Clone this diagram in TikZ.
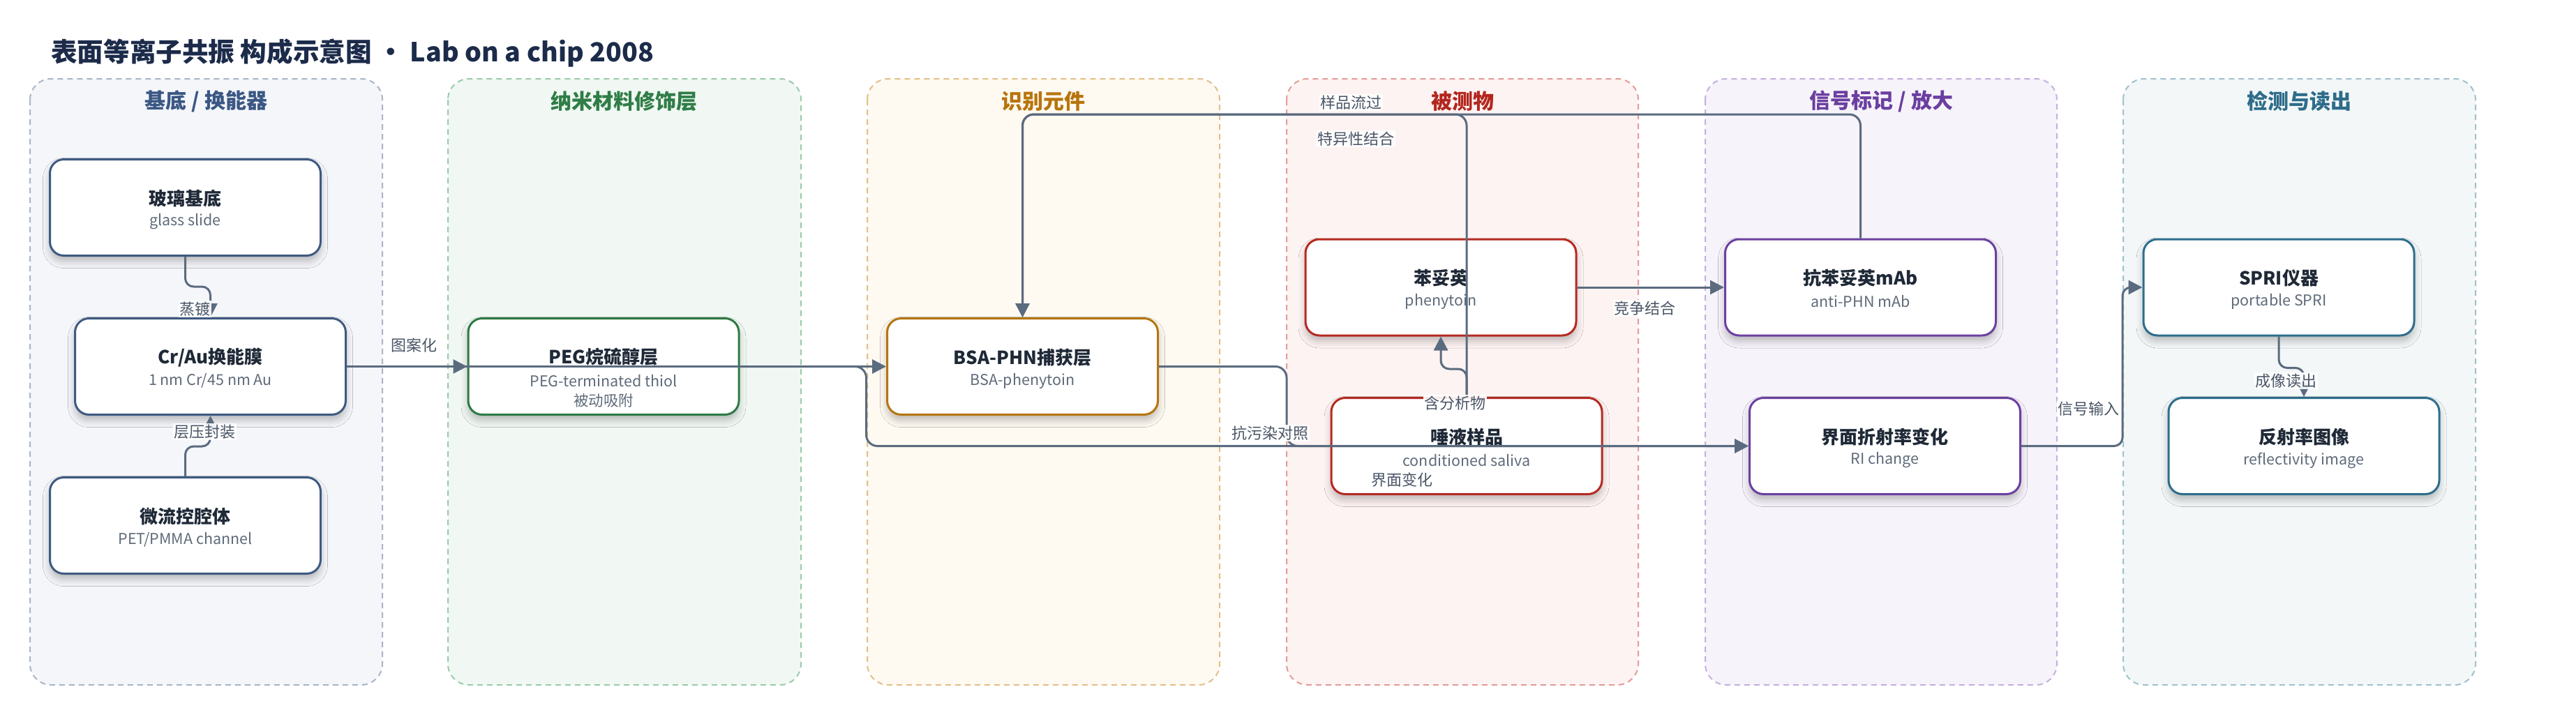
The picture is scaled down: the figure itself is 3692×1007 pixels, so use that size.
\documentclass[tikz,border=0pt]{standalone}
\usepackage{fontspec}
\setmainfont{Noto Sans CJK SC}
\usetikzlibrary{arrows.meta,shadows.blur}
\definecolor{titlec}{HTML}{1C2B4A}
\definecolor{ttlc}{HTML}{1F2937}
\definecolor{subc}{HTML}{5F6B7A}
\definecolor{lblc}{HTML}{4A5566}
\definecolor{edgec}{HTML}{5B6B7F}
\definecolor{tA}{HTML}{3B5784}\definecolor{fA}{HTML}{F4F6FA}\definecolor{bA}{HTML}{A9B5C8}\definecolor{nA}{HTML}{3E5A80}
\definecolor{tB}{HTML}{2F7D47}\definecolor{fB}{HTML}{F1F8F3}\definecolor{bB}{HTML}{9CCAAA}\definecolor{nB}{HTML}{2E7A45}
\definecolor{tC}{HTML}{B8740C}\definecolor{fC}{HTML}{FEF9F1}\definecolor{bC}{HTML}{E2C088}\definecolor{nC}{HTML}{B57510}
\definecolor{tD}{HTML}{B3261E}\definecolor{fD}{HTML}{FDF3F2}\definecolor{bD}{HTML}{E39C98}\definecolor{nD}{HTML}{B52A22}
\definecolor{tE}{HTML}{6A3FA0}\definecolor{fE}{HTML}{F6F3FA}\definecolor{bE}{HTML}{C5B0DF}\definecolor{nE}{HTML}{6B40A0}
\definecolor{tF}{HTML}{2D6C8A}\definecolor{fF}{HTML}{F3F7F8}\definecolor{bF}{HTML}{A0C1CE}\definecolor{nF}{HTML}{2E6D8C}
\begin{document}
\begin{tikzpicture}[x=1pt,y=-1pt,
  lanebox/.style 2 args={draw=#2, fill=#1, line width=2pt, dash pattern=on 8pt off 6pt, rounded corners=30pt},
  lanetitle/.style={font=\fontsize{30}{34}\selectfont\bfseries, text=#1, inner sep=0pt},
  box/.style={draw=#1, line width=3pt, fill=white, rounded corners=20pt, minimum width=388pt, minimum height=138pt, inner sep=0pt,
    blur shadow={shadow xshift=0pt, shadow yshift=-8pt, shadow blur radius=10pt, shadow opacity=25}},
  ttl/.style={font=\fontsize{26}{30}\selectfont\bfseries, text=ttlc, inner sep=0pt},
  sub/.style={font=\fontsize{21.5}{25}\selectfont, text=subc, inner sep=0pt},
  lbl/.style={font=\fontsize{22}{26}\selectfont, text=lblc, fill=white, fill opacity=0.9, text opacity=1, inner sep=1.5pt},
  edge/.style={draw=edgec, line width=3pt, rounded corners=16pt},
  arr/.style={edge, -{Triangle[length=20pt,width=20pt]}}
]
\useasboundingbox (0,0) rectangle (3692,1007);
\fill[white] (0,0) rectangle (3692,1007);

% title
\node[anchor=west, inner sep=0pt, font=\fontsize{37.6}{44}\selectfont\bfseries, text=titlec] (title) at (73,76) {表面等离子共振 构成示意图 · Lab on a chip 2008};

% lanes
\draw[lanebox={fA}{bA}] (43,113) rectangle (548,982);
\draw[lanebox={fB}{bB}] (642,113) rectangle (1148,982);
\draw[lanebox={fC}{bC}] (1243,113) rectangle (1748,982);
\draw[lanebox={fD}{bD}] (1844,113) rectangle (2348,982);
\draw[lanebox={fE}{bE}] (2444,113) rectangle (2948,982);
\draw[lanebox={fF}{bF}] (3043,113) rectangle (3548,982);
\node[lanetitle=tA] (lt1) at (295.5,145) {基底 / 换能器};
\node[lanetitle=tB] (lt2) at (894.5,145) {纳米材料修饰层};
\node[lanetitle=tC] (lt3) at (1495.5,145) {识别元件};
\node[lanetitle=tD] (lt4) at (2096.5,145) {被测物};
\node[lanetitle=tE] (lt5) at (2696.5,145) {信号标记 / 放大};
\node[lanetitle=tF] (lt6) at (3295.5,145) {检测与读出};

% nodes
\node[box=nA] (glass) at (265.5,297.5) {};
\node[ttl] (glasst) at (265.5,285) {玻璃基底};
\node[sub] (glasss) at (265.5,318) {glass slide};

\node[box=nA] (cr) at (301.5,525.5) {};
\node[ttl] (crt) at (301.5,513) {Cr/Au换能膜};
\node[sub] (crs) at (301.5,546) {1 nm Cr/45 nm Au};

\node[box=nA] (micro) at (265.5,753.5) {};
\node[ttl] (microt) at (265.5,741) {微流控腔体};
\node[sub] (micros) at (265.5,774) {PET/PMMA channel};

\node[box=nB] (peg) at (865,525.5) {};
\node[ttl] (pegt) at (865,512) {PEG烷硫醇层};
\node[sub] (pegs) at (865,546) {PEG-terminated thiol};
\node[sub] (pegs2) at (865,574) {被动吸附};

\node[box=nC] (bsa) at (1465.5,525.5) {};
\node[ttl] (bsat) at (1465.5,513) {BSA-PHN捕获层};
\node[sub] (bsas) at (1465.5,546) {BSA-phenytoin};

\node[box=nD] (phe) at (2065,412) {};
\node[ttl] (phet) at (2065,399) {苯妥英};
\node[sub] (phes) at (2065,432) {phenytoin};

\node[box=nD] (sal) at (2102,639.5) {};
\node[ttl] (salt) at (2102,627) {唾液样品};
\node[sub] (sals) at (2102,660) {conditioned saliva};

\node[box=nE] (mab) at (2666.5,412) {};
\node[ttl] (mabt) at (2666.5,399) {抗苯妥英mAb};
\node[sub] (mabs) at (2666.5,432) {anti-PHN mAb};

\node[box=nE] (ri) at (2701.5,639.5) {};
\node[ttl] (rit) at (2701.5,627) {界面折射率变化};
\node[sub] (ris) at (2701.5,660) {RI change};

\node[box=nF] (spri) at (3266,412) {};
\node[ttl] (sprit) at (3266,399) {SPRI仪器};
\node[sub] (spris) at (3266,432) {portable SPRI};

\node[box=nF] (refl) at (3302,639.5) {};
\node[ttl] (reflt) at (3302,627) {反射率图像};
\node[sub] (refls) at (3302,660) {reflectivity image};

\coordinate (topy) at (0,164);

% connectors
\draw[arr, rounded corners=12pt] (glass.south) -- ++(0,43) -| (cr.north);
\draw[arr, rounded corners=12pt] (micro.north) -- ++(0,-43) -| (cr.south);
\draw[arr] (cr.east) -- (peg.west);
\draw[arr] (cr.east) -- (bsa.west);
\draw[arr] (peg.east) -- ++(181,0) |- (ri.west);
\draw[arr] (bsa.east) -- ++(183,0) |- (ri.west);
\draw[arr] (sal.north) -- (sal.north |- topy) -| (bsa.north);
\draw[arr] (mab.north) -- (mab.north |- topy) -| (bsa.north);
\draw[arr, rounded corners=12pt] (sal.north) -- ++(0,-40) -| (phe.south);
\draw[arr] (phe.east) -- (mab.west);
\draw[arr, rounded corners=12pt] (ri.east) -- ++(145,0) |- (spri.west);
\draw[arr, rounded corners=12pt] (spri.south) -- ++(0,45) -| (refl.north);

% labels
\node[lbl] (l1) at (279,443) {蒸镀};
\node[lbl] (l2) at (293,619) {层压封装};
\node[lbl] (l3) at (593,495) {图案化};
\node[lbl] (l4) at (1936,147) {样品流过};
\node[lbl] (l5) at (1943,199) {特异性结合};
\node[lbl] (l6) at (2085,578) {含分析物};
\node[lbl] (l7) at (2357,442) {竞争结合};
\node[lbl] (l8) at (1820,621) {抗污染对照};
\node[lbl] (l9) at (2009,688) {界面变化};
\node[lbl] (l10) at (2993,586) {信号输入};
\node[lbl] (l11) at (3276,546) {成像读出};
\end{tikzpicture}
\end{document}
